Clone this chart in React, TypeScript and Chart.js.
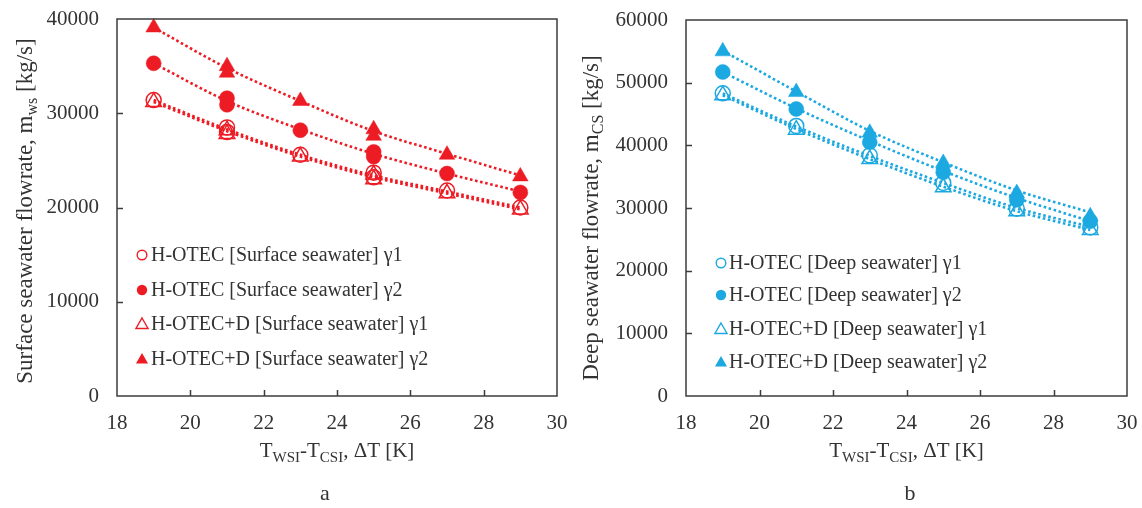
import React, { useEffect, useRef } from 'react';
import { Chart, registerables } from 'chart.js';

Chart.register(...registerables);

// ---------- data ----------
const xTickValues = [18, 20, 22, 24, 26, 28, 30];
const trendX = [19, 21, 23, 25, 27, 29];

// Panel a: surface seawater flowrate (markers; duplicates at 21 and 25)
const surfX = [19, 21, 21, 23, 25, 25, 27, 29];
const surfHotecG1 = [31400, 28500, 28000, 25600, 23700, 23200, 21800, 20000];
const surfHotecG2 = [35300, 31600, 30900, 28200, 25900, 25400, 23600, 21600];
const surfHotecDG1 = [31200, 28200, 27800, 25400, 23500, 23000, 21500, 19800];
const surfHotecDG2 = [39100, 35000, 34300, 31300, 28300, 27600, 25600, 23300];

const surfTrendG1 = [31400, 28300, 25600, 23400, 21700, 20000];
const surfTrendG2 = [35300, 31300, 28300, 25700, 23600, 21700];
const surfTrendDG1 = [31200, 28100, 25400, 23200, 21500, 19800];
const surfTrendDG2 = [39100, 34800, 31300, 28100, 25700, 23400];

// Panel b: deep seawater flowrate
const deepX = [19, 21, 23, 25, 27, 29];
const deepHotecG1 = [48300, 43100, 38400, 34000, 29900, 26900];
const deepHotecG2 = [51700, 45800, 40500, 35700, 31300, 27900];
const deepHotecDG1 = [48000, 42500, 37800, 33300, 29500, 26500];
const deepHotecDG2 = [55000, 48500, 42000, 37200, 32400, 28700];

const deepTrendG1 = [48300, 43000, 38300, 34000, 30000, 27000];
const deepTrendG2 = [51700, 45900, 40700, 35900, 31600, 27900];
const deepTrendDG1 = [48000, 42600, 37800, 33400, 29500, 26500];
const deepTrendDG2 = [55100, 48600, 42300, 37300, 32800, 29300];

const surfLegend = [
  'H-OTEC [Surface seawater] γ1',
  'H-OTEC [Surface seawater] γ2',
  'H-OTEC+D [Surface seawater] γ1',
  'H-OTEC+D [Surface seawater] γ2',
];
const deepLegend = [
  'H-OTEC [Deep seawater] γ1',
  'H-OTEC [Deep seawater] γ2',
  'H-OTEC+D [Deep seawater] γ1',
  'H-OTEC+D [Deep seawater] γ2',
];

// ---------- styles ----------
const RED = '#ED1C24';
const BLUE = '#1CA8E0';
const AXIS = '#3c3c3c';
const TEXT = '#333333';
const FONT = "'Liberation Serif', 'Times New Roman', serif";
const W = 571;
const H = 508;

type Part = { t: string; sub?: boolean };

function drawRich(ctx: CanvasRenderingContext2D, parts: Part[], x: number, y: number, size: number, subSize: number) {
  const widths = parts.map((p) => {
    ctx.font = `${p.sub ? subSize : size}px ${FONT}`;
    return ctx.measureText(p.t).width;
  });
  const total = widths.reduce((a, b) => a + b, 0);
  let cx = x - total / 2;
  ctx.textAlign = 'left';
  ctx.textBaseline = 'alphabetic';
  parts.forEach((p, i) => {
    ctx.font = `${p.sub ? subSize : size}px ${FONT}`;
    ctx.fillText(p.t, cx, p.sub ? y + size * 0.22 : y);
    cx += widths[i];
  });
}

function drawMarker(ctx: CanvasRenderingContext2D, kind: string, filled: boolean, x: number, y: number, r: number, color: string) {
  ctx.beginPath();
  if (kind === 'circle') {
    ctx.arc(x, y, r, 0, Math.PI * 2);
  } else {
    ctx.moveTo(x, y - r);
    ctx.lineTo(x + r * 0.866, y + r * 0.5);
    ctx.lineTo(x - r * 0.866, y + r * 0.5);
    ctx.closePath();
  }
  if (filled) {
    ctx.fillStyle = color;
    ctx.fill();
  } else {
    ctx.strokeStyle = color;
    ctx.lineWidth = 1.4;
    ctx.stroke();
  }
}

type PanelCfg = {
  offsetX: number;
  color: string;
  yMax: number;
  yStep: number;
  padTop: number;
  padRight: number;
  yWidth: number;
  xs: number[];
  series: number[][];
  trends: number[][];
  legend: string[];
  legendMarkerX: number;
  legendTextX: number;
  legendRows: number[];
  yTitle: Part[];
  yTitleX: number;
  yTitleY: number;
  letter: string;
  letterX: number;
};

const kinds = [
  { kind: 'circle', filled: false },
  { kind: 'circle', filled: true },
  { kind: 'triangle', filled: false },
  { kind: 'triangle', filled: true },
];

function makePlugin(cfg: PanelCfg) {
  return {
    id: 'decor',
    afterDraw(chart: any) {
      const ctx: CanvasRenderingContext2D = chart.ctx;
      const a = chart.chartArea;
      const sx = chart.scales.x;
      const sy = chart.scales.y;
      ctx.save();
      // frame
      ctx.strokeStyle = AXIS;
      ctx.lineWidth = 1.5;
      ctx.strokeRect(a.left, a.top, a.right - a.left, a.bottom - a.top);
      // inward ticks
      ctx.beginPath();
      for (const v of xTickValues.slice(1, -1)) {
        const x = Math.round(sx.getPixelForValue(v)) + 0.5;
        ctx.moveTo(x, a.bottom);
        ctx.lineTo(x, a.bottom - 6);
      }
      for (let v = cfg.yStep; v < cfg.yMax; v += cfg.yStep) {
        const y = Math.round(sy.getPixelForValue(v)) + 0.5;
        ctx.moveTo(a.left, y);
        ctx.lineTo(a.left + 6, y);
      }
      ctx.stroke();

      ctx.fillStyle = TEXT;
      // x title
      const cx = (a.left + a.right) / 2;
      drawRich(
        ctx,
        [{ t: 'T' }, { t: 'WSI', sub: true }, { t: '-T' }, { t: 'CSI', sub: true }, { t: ', ΔT [K]' }],
        cx,
        457,
        21,
        15
      );
      // panel letter
      ctx.font = `22px ${FONT}`;
      ctx.textAlign = 'center';
      ctx.textBaseline = 'alphabetic';
      ctx.fillText(cfg.letter, cfg.letterX - cfg.offsetX, 500);
      // y title
      ctx.save();
      ctx.translate(cfg.yTitleX - cfg.offsetX, cfg.yTitleY);
      ctx.rotate(-Math.PI / 2);
      drawRich(ctx, cfg.yTitle, 0, 0, 23, 16);
      ctx.restore();
      // legend
      cfg.legend.forEach((label, i) => {
        const y = cfg.legendRows[i];
        const k = kinds[i];
        const r = k.kind === 'circle' ? (k.filled ? 5.2 : 4.8) : 7;
        drawMarker(ctx, k.kind, k.filled, cfg.legendMarkerX - cfg.offsetX, y + (k.kind === 'triangle' ? 1 : 0), r, cfg.color);
        ctx.fillStyle = TEXT;
        ctx.font = `20px ${FONT}`;
        ctx.textAlign = 'left';
        ctx.textBaseline = 'middle';
        ctx.fillText(label, cfg.legendTextX - cfg.offsetX, y + 1);
      });
      ctx.restore();
    },
  };
}

function Panel({ cfg }: { cfg: PanelCfg }) {
  const ref = useRef<HTMLCanvasElement>(null);
  useEffect(() => {
    const canvas = ref.current;
    if (!canvas) return;
    const markerSets = cfg.series.map((vals, i) => {
      const k = kinds[i];
      const tri = k.kind === 'triangle';
      return {
        label: cfg.legend[i],
        data: cfg.xs.map((x, j) => ({ x, y: vals[j] })),
        showLine: false,
        pointStyle: k.kind,
        pointRadius: tri ? 9 : 7.5,
        pointBackgroundColor: k.filled ? cfg.color : 'rgba(0,0,0,0)',
        pointBorderColor: cfg.color,
        pointBorderWidth: k.filled ? 0.5 : 1.5,
        order: 0,
        clip: false as any,
      };
    });
    const trendSets = cfg.trends.map((vals, i) => ({
      label: 'trend' + i,
      data: trendX.map((x, j) => ({ x, y: vals[j] })),
      showLine: true,
      pointRadius: 0,
      borderColor: cfg.color,
      borderWidth: 2.6,
      borderDash: [2.6, 2.6],
      borderCapStyle: 'butt' as const,
      cubicInterpolationMode: 'monotone' as const,
      order: 1,
    }));
    const tickFont = { family: FONT, size: 21 };
    const chart = new Chart(canvas, {
      type: 'scatter',
      data: { datasets: [...markerSets, ...trendSets] as any },
      options: {
        responsive: false,
        animation: false,
        devicePixelRatio: 1,
        events: [],
        layout: { padding: { top: cfg.padTop, right: cfg.padRight, left: 0, bottom: 0 } },
        plugins: { legend: { display: false }, tooltip: { enabled: false } },
        scales: {
          x: {
            type: 'linear',
            min: 18,
            max: 30,
            ticks: { stepSize: 2, font: tickFont, color: TEXT, padding: 15, maxRotation: 0, callback: (v: any) => String(v) },
            grid: { display: false, drawTicks: false },
            border: { display: false },
            afterFit: (s: any) => {
              s.height = H - 396;
              s.paddingLeft = 0;
              s.paddingRight = 0;
            },
          },
          y: {
            type: 'linear',
            min: 0,
            max: cfg.yMax,
            ticks: { stepSize: cfg.yStep, font: tickFont, color: TEXT, padding: 18, callback: (v: any) => String(v) },
            grid: { display: false, drawTicks: false },
            border: { display: false },
            afterFit: (s: any) => {
              s.width = cfg.yWidth;
              s.paddingTop = 0;
              s.paddingBottom = 0;
            },
          },
        },
      },
      plugins: [makePlugin(cfg)],
    });
    return () => chart.destroy();
  }, []);
  return (
    <canvas
      ref={ref}
      width={W}
      height={H}
      style={{ position: 'absolute', left: cfg.offsetX, top: 0, width: W, height: H }}
    />
  );
}

const leftCfg: PanelCfg = {
  offsetX: 0,
  color: RED,
  yMax: 40000,
  yStep: 10000,
  padTop: 19,
  padRight: 14,
  yWidth: 117,
  xs: surfX,
  series: [surfHotecG1, surfHotecG2, surfHotecDG1, surfHotecDG2],
  trends: [surfTrendG1, surfTrendG2, surfTrendDG1, surfTrendDG2],
  legend: surfLegend,
  legendMarkerX: 142,
  legendTextX: 151,
  legendRows: [255, 290, 324, 359],
  yTitle: [{ t: 'Surface seawater flowrate, m' }, { t: 'ws', sub: true }, { t: ' [kg/s]' }],
  yTitleX: 32,
  yTitleY: 211,
  letter: 'a',
  letterX: 325,
};

const rightCfg: PanelCfg = {
  offsetX: 571,
  color: BLUE,
  yMax: 60000,
  yStep: 10000,
  padTop: 20,
  padRight: 15,
  yWidth: 115,
  xs: deepX,
  series: [deepHotecG1, deepHotecG2, deepHotecDG1, deepHotecDG2],
  trends: [deepTrendG1, deepTrendG2, deepTrendDG1, deepTrendDG2],
  legend: deepLegend,
  legendMarkerX: 721,
  legendTextX: 729,
  legendRows: [263, 295, 329, 362],
  yTitle: [{ t: 'Deep seawater flowrate, m' }, { t: 'CS', sub: true }, { t: ' [kg/s]' }],
  yTitleX: 598,
  yTitleY: 218,
  letter: 'b',
  letterX: 910,
};

export default function App() {
  return (
    <div style={{ position: 'fixed', left: 0, top: 0, width: 1142, height: 508, background: '#fff', overflow: 'hidden' }}>
      <Panel cfg={leftCfg} />
      <Panel cfg={rightCfg} />
    </div>
  );
}
